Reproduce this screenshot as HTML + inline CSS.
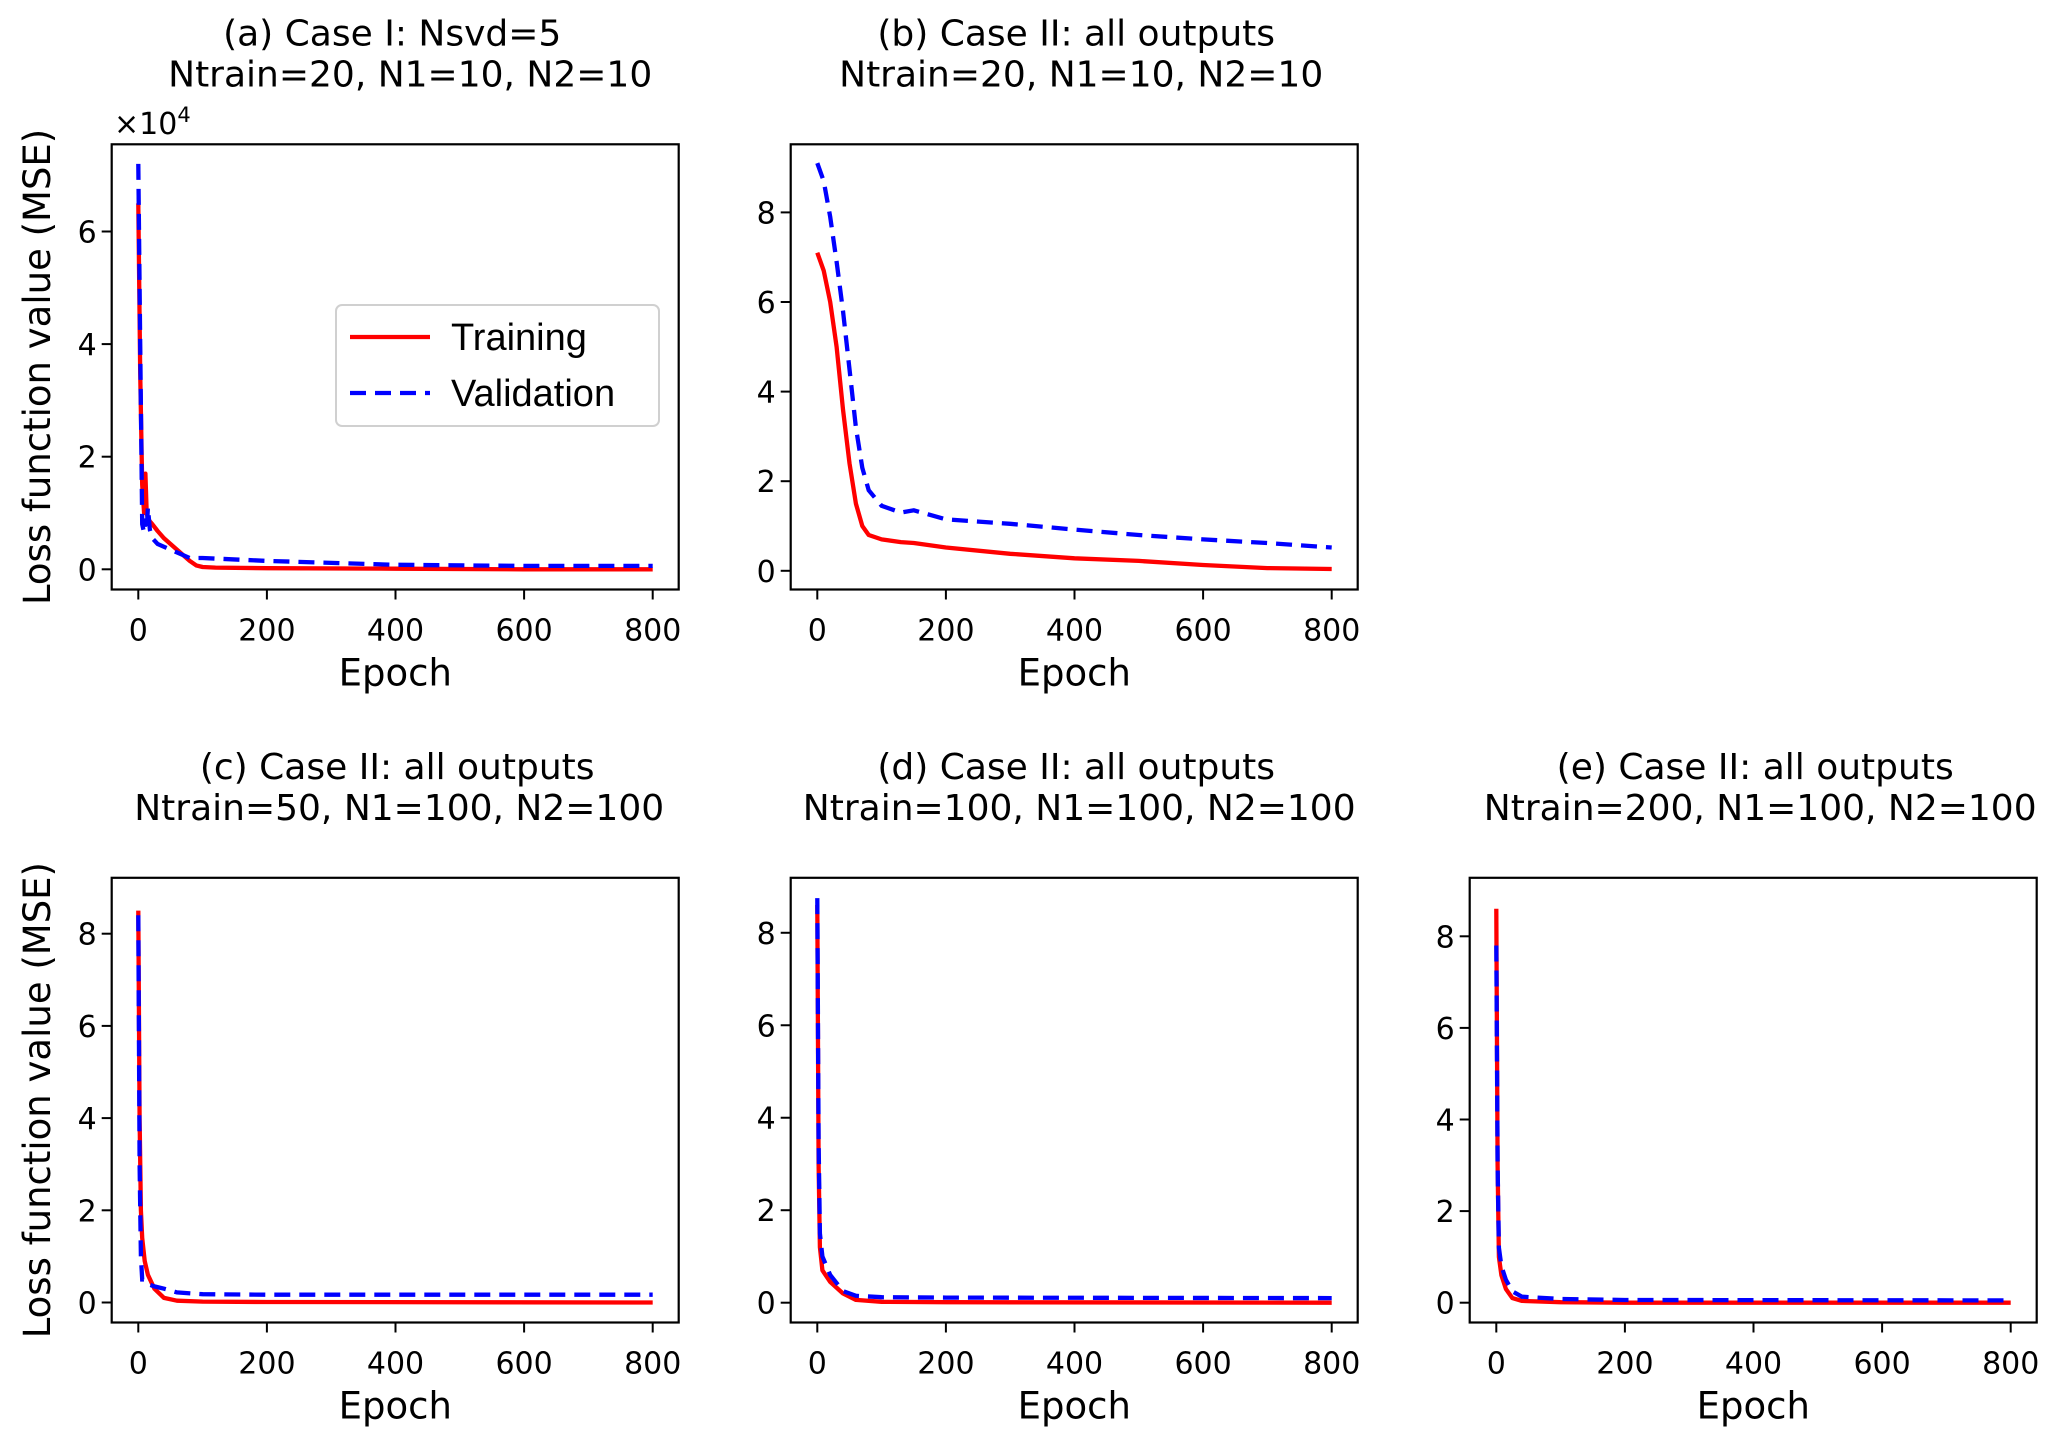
<!DOCTYPE html>
<html><head><meta charset="utf-8"><style>
body{margin:0;background:#fff;}
svg{display:block;font-family:"DejaVu Sans","Liberation Sans",sans-serif;}
</style></head><body>
<svg id="fig" width="2067" height="1446" viewBox="0 0 2067 1446" xmlns="http://www.w3.org/2000/svg">
<rect width="2067" height="1446" fill="#fff"/>
</svg>
<script>
// Panel (a) data (values x1e4)
const epochsA = [0,3,6,9,11,13,15,18,22,30,40,50,60,70,80,90,100,120,200,400,600,800];
const trainA = [6.5,3.5,1.5,1.0,1.7,1.0,0.9,0.85,0.8,0.68,0.55,0.45,0.35,0.25,0.15,0.07,0.04,0.03,0.02,0.01,0.0,0.0];
const valA = [7.2,4.0,0.8,0.65,0.9,0.7,1.1,0.7,0.55,0.45,0.4,0.35,0.3,0.25,0.2,0.2,0.2,0.19,0.15,0.08,0.06,0.06];
// Panel (b)
const epochsB = [0,10,20,30,40,50,60,70,80,100,130,150,200,300,400,500,600,700,800];
const trainB = [7.1,6.7,6.0,5.0,3.6,2.4,1.5,1.0,0.8,0.7,0.64,0.62,0.52,0.38,0.28,0.22,0.13,0.06,0.04];
const valB = [9.1,8.7,7.9,6.9,5.8,4.5,3.2,2.3,1.8,1.45,1.3,1.35,1.15,1.05,0.92,0.8,0.7,0.62,0.52];
// Panel (c)
const epochsC = [0,2,4,6,10,15,25,40,60,100,200,800];
const trainC = [8.5,4.0,2.0,1.4,0.9,0.6,0.3,0.1,0.04,0.02,0.01,0.0];
const valC = [8.4,3.0,1.0,0.5,0.5,0.4,0.35,0.3,0.22,0.18,0.17,0.17];
// Panel (d)
const epochsD = [0,2,4,8,20,40,60,100,200,800];
const trainD = [8.6,3.0,1.2,0.7,0.45,0.2,0.06,0.02,0.01,0.0];
const valD = [8.75,3.5,1.5,1.0,0.6,0.25,0.15,0.12,0.11,0.1];
// Panel (e)
const epochsE = [0,2,4,8,15,25,40,100,200,800];
const trainE = [8.6,3.0,1.0,0.6,0.3,0.1,0.04,0.01,0.0,0.0];
const valE = [7.8,3.0,1.2,0.8,0.5,0.25,0.13,0.08,0.06,0.05];
const xTicks = [0,200,400,600,800];
const yTicksA = [0,2,4,6];
const yTicksB = [0,2,4,6,8];
const titlesL1 = ["(a) Case I: Nsvd=5","(b) Case II: all outputs","(c) Case II: all outputs","(d) Case II: all outputs","(e) Case II: all outputs"];
const titlesL2 = ["Ntrain=20, N1=10, N2=10","Ntrain=20, N1=10, N2=10","Ntrain=50, N1=100, N2=100","Ntrain=100, N1=100, N2=100","Ntrain=200, N1=100, N2=100"];

const NS="http://www.w3.org/2000/svg";
const svg=document.getElementById('fig');
function mk(tag,attrs,parent,text){const e=document.createElementNS(NS,tag);for(const k in attrs)e.setAttribute(k,attrs[k]);if(text!==undefined)e.textContent=text;(parent||svg).appendChild(e);return e;}

const panels=[
 {key:'a',left:111.7,top:144.3,bottom:589.5,y0:569.3,yUnit:56.3,ex:epochsA,tr:trainA,va:valA,yt:yTicksA,ylabel:true,d1:-3,d2:15},
 {key:'b',left:790.7,top:144.3,bottom:589.5,y0:570.8,yUnit:44.8,ex:epochsB,tr:trainB,va:valB,yt:yTicksB,ylabel:false,d1:2,d2:7},
 {key:'c',left:111.7,top:877.8,bottom:1322.5,y0:1302.5,yUnit:46.1,ex:epochsC,tr:trainC,va:valC,yt:yTicksB,ylabel:true,d1:2,d2:4},
 {key:'d',left:790.7,top:877.8,bottom:1322.5,y0:1302.7,yUnit:46.24,ex:epochsD,tr:trainD,va:valD,yt:yTicksB,ylabel:false,d1:2,d2:5},
 {key:'e',left:1469.7,top:877.8,bottom:1322.5,y0:1302.7,yUnit:45.8,ex:epochsE,tr:trainE,va:valE,yt:yTicksB,ylabel:false,d1:2,d2:7}
];
const W=567;
panels.forEach((p,i)=>{
  const g=mk('g',{});
  
  
  const xs=v=>p.left+26.6+v*(514.4/800);
  const ys=v=>p.y0-v*p.yUnit;
  const cx=p.left+W/2;
  const t1=mk('text',{x:cx+p.d1,y:p.top-99,'text-anchor':'middle','font-size':36,fill:'#000'},g,titlesL1[i]);
  
  
  const t2=mk('text',{x:cx+p.d2,y:p.top-58,'text-anchor':'middle','font-size':36,fill:'#000'},g,titlesL2[i]);
  
  
  const path=(arr)=>p.ex.map((e,j)=>(j?'L':'M')+xs(e).toFixed(1)+','+ys(arr[j]).toFixed(1)).join(' ');
  const cp=mk('clipPath',{id:'clip'+p.key},g);
  mk('rect',{x:p.left,y:p.top,width:W,height:p.bottom-p.top},cp);
  const lt=mk('path',{d:path(p.tr),fill:'none',stroke:'#ff0000','stroke-width':4.3,'stroke-linejoin':'round','clip-path':'url(#clip'+p.key+')'},g);
  
  
  const lv=mk('path',{d:path(p.va),fill:'none',stroke:'#0000ff','stroke-width':4.3,'stroke-dasharray':'16,9','clip-path':'url(#clip'+p.key+')'},g);
  
  
  const frame=mk('rect',{x:p.left,y:p.top,width:W,height:p.bottom-p.top,fill:'none',stroke:'#000','stroke-width':2.2},g);
  
  
  xTicks.forEach(t=>{
    const x=xs(t);
    mk('line',{x1:x,x2:x,y1:p.bottom,y2:p.bottom+10,stroke:'#000','stroke-width':2},g);
    const tl=mk('text',{x:x,y:p.bottom+51,'text-anchor':'middle','font-size':30,fill:'#000'},g,String(t));
    
    
  });
  p.yt.forEach(t=>{
    const y=ys(t);
    mk('line',{x1:p.left-10,x2:p.left,y1:y,y2:y,stroke:'#000','stroke-width':2},g);
    const tl=mk('text',{x:p.left-15,y:y+11,'text-anchor':'end','font-size':30,fill:'#000'},g,String(t));
    
    
  });
  const xl=mk('text',{x:p.left+26.6+257,y:p.bottom+96,'text-anchor':'middle','font-size':37,fill:'#000'},g,'Epoch');
  
  
  if(p.ylabel){
    const my=(p.top+p.bottom)/2;
    const yl=mk('text',{x:0,y:0,transform:'translate(50,'+my+') rotate(-90)','text-anchor':'middle','font-size':37,fill:'#000'},g,'Loss function value (MSE)');
    
    
  }
});
const off=mk('text',{x:114,y:134,'font-size':30,fill:'#000'},svg);


off.appendChild(document.createTextNode('×10'));
mk('tspan',{dy:-12,'font-size':21},off,'4');
const lg=mk('g',{});


mk('rect',{x:336,y:305,width:323,height:121,rx:6,fill:'#fff','fill-opacity':0.8,stroke:'#d0d0d0','stroke-width':2},lg);
mk('line',{x1:350,x2:430,y1:337,y2:337,stroke:'#ff0000','stroke-width':4.3},lg);
mk('line',{x1:350,x2:430,y1:393,y2:393,stroke:'#0000ff','stroke-width':4.3,'stroke-dasharray':'16,9'},lg);
const le1=mk('text',{x:451,y:350,'font-size':38,'font-family':'Liberation Sans, sans-serif',fill:'#000'},lg,'Training');


const le2=mk('text',{x:451,y:406,'font-size':38,'font-family':'Liberation Sans, sans-serif',fill:'#000'},lg,'Validation');


</script>
</body></html>
